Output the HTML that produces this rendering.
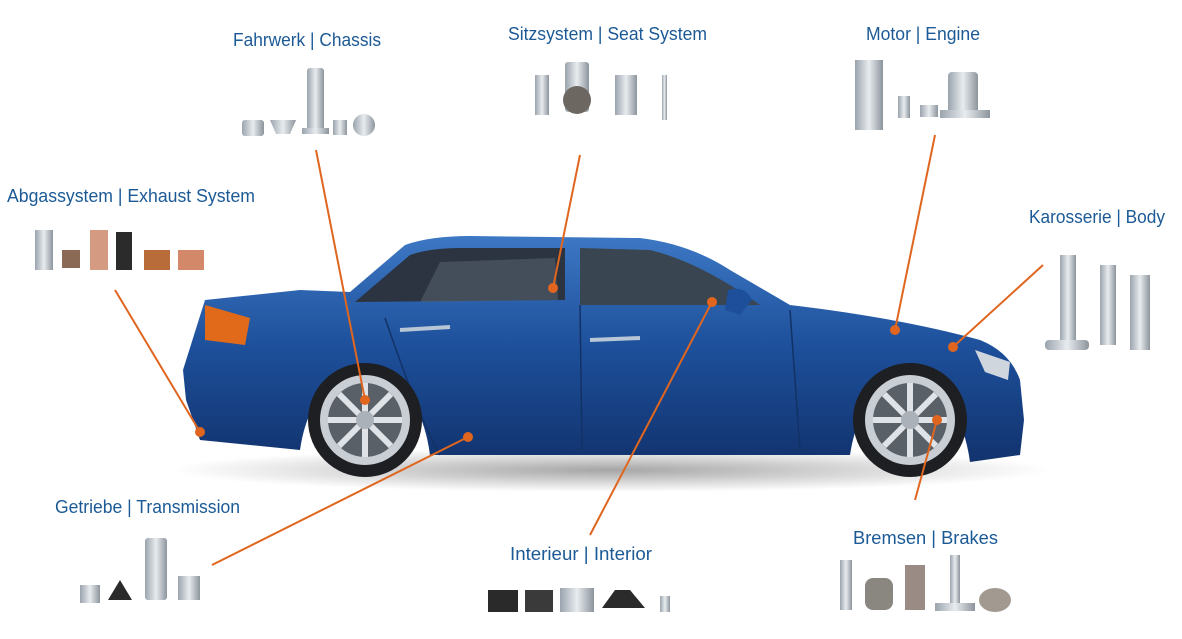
<!DOCTYPE html>
<html><head><meta charset="utf-8"><style>
html,body{margin:0;padding:0;background:#fff;}
svg{display:block}
text{font-family:"Liberation Sans Narrow","Liberation Sans",sans-serif;fill:#1c5a96;font-size:18px;}
</style></head><body>
<svg width="1182" height="639" viewBox="0 0 1182 639" xmlns="http://www.w3.org/2000/svg">
<defs>
<linearGradient id="body" x1="0" y1="0" x2="0" y2="1">
<stop offset="0" stop-color="#3d78c4"/><stop offset="0.5" stop-color="#1d4f9a"/><stop offset="1" stop-color="#12336e"/>
</linearGradient>
<linearGradient id="metal" x1="0" x2="1">
<stop offset="0" stop-color="#9aa3ad"/><stop offset="0.5" stop-color="#e8ecef"/><stop offset="1" stop-color="#8c949c"/>
</linearGradient>
<radialGradient id="shadow" cx="0.5" cy="0.5" r="0.5"><stop offset="0" stop-color="#000" stop-opacity="0.35"/><stop offset="1" stop-color="#000" stop-opacity="0"/></radialGradient>
</defs>
<ellipse cx="610" cy="470" rx="440" ry="22" fill="url(#shadow)"/>
<path d="M205,300 L300,290 L350,292 L405,245 Q430,236 470,236 L640,238 Q690,244 730,270 L790,305 Q900,318 980,340 Q1010,352 1020,380 L1024,420 L1020,455 L970,462 Q960,390 910,385 Q860,388 850,455 L430,455 Q420,380 365,375 Q310,380 300,450 L200,440 L186,400 L183,370 Z" fill="url(#body)"/>
<path d="M355,302 L410,255 Q430,248 460,248 L565,248 L565,300 Z" fill="#2b3440"/>
<path d="M580,248 L650,250 Q700,262 760,305 L580,305 Z" fill="#3a4552"/>
<path d="M420,302 L440,262 L555,258 L558,300 Z" fill="#55606c" opacity="0.6"/>
<path d="M205,305 L250,318 L245,345 L205,340 Z" fill="#e06a1a"/>
<path d="M975,350 L1010,362 L1008,380 L985,372 Z" fill="#cfd6de"/>
<path d="M580,305 L582,450 M385,318 Q420,420 440,455 M790,310 L800,450" stroke="#123266" stroke-width="1.5" fill="none"/>
<path d="M400,330 L450,327 M590,340 L640,338" stroke="#b9c6d6" stroke-width="4"/>
<g>
<circle cx="365" cy="420" r="57" fill="#1d1f22"/>
<circle cx="365" cy="420" r="45" fill="#c9ced4"/>
<circle cx="365" cy="420" r="37" fill="#5a6068"/>
<g stroke="#dfe3e7" stroke-width="6">
<line x1="365" y1="383" x2="365" y2="457"/><line x1="328" y1="420" x2="402" y2="420"/>
<line x1="339" y1="394" x2="391" y2="446"/><line x1="391" y1="394" x2="339" y2="446"/>
</g>
<circle cx="365" cy="420" r="9" fill="#aab1b8"/>
</g>
<g>
<circle cx="910" cy="420" r="57" fill="#1d1f22"/>
<circle cx="910" cy="420" r="45" fill="#c9ced4"/>
<circle cx="910" cy="420" r="37" fill="#5a6068"/>
<g stroke="#dfe3e7" stroke-width="6">
<line x1="910" y1="383" x2="910" y2="457"/><line x1="873" y1="420" x2="947" y2="420"/>
<line x1="884" y1="394" x2="936" y2="446"/><line x1="936" y1="394" x2="884" y2="446"/>
</g>
<circle cx="910" cy="420" r="9" fill="#aab1b8"/>
</g>
<path d="M728,290 Q745,285 752,300 L740,315 L725,310 Z" fill="#1d4f9a"/>

<g fill="url(#metal)">
<rect x="242" y="120" width="22" height="16" rx="3"/><path d="M270,120 h26 l-6,14 h-14z"/><rect x="307" y="68" width="17" height="66" rx="3"/><rect x="302" y="128" width="27" height="6"/><rect x="333" y="120" width="14" height="15"/><circle cx="364" cy="125" r="11"/>
<rect x="535" y="75" width="14" height="40"/><rect x="565" y="62" width="24" height="50" rx="3"/><circle cx="577" cy="100" r="14" fill="#6c6760"/><rect x="615" y="75" width="22" height="40"/><rect x="662" y="75" width="5" height="45"/>
<rect x="855" y="60" width="28" height="70"/><rect x="898" y="96" width="12" height="22"/><rect x="920" y="105" width="18" height="12"/><rect x="948" y="72" width="30" height="45" rx="4"/><rect x="940" y="110" width="50" height="8"/>
<rect x="35" y="230" width="18" height="40"/><rect x="62" y="250" width="18" height="18" fill="#8b6a55"/><rect x="90" y="230" width="18" height="40" fill="#d59a82"/><rect x="116" y="232" width="16" height="38" fill="#2b2b2b"/><rect x="144" y="250" width="26" height="20" fill="#b86c3a"/><rect x="178" y="250" width="26" height="20" fill="#d4886a"/>
<rect x="1060" y="255" width="16" height="85"/><rect x="1045" y="340" width="44" height="10" rx="4"/><rect x="1100" y="265" width="16" height="80"/><rect x="1130" y="275" width="20" height="75"/>
<rect x="80" y="585" width="20" height="18"/><path d="M108,600 L120,580 L132,600 Z" fill="#2b2b2b"/><rect x="145" y="538" width="22" height="62" rx="3"/><rect x="178" y="576" width="22" height="24"/>
<rect x="488" y="590" width="30" height="22" fill="#2a2a2a"/><rect x="525" y="590" width="28" height="22" fill="#3a3a3a"/><rect x="560" y="588" width="34" height="24"/><path d="M602,608 L615,590 L630,590 L645,608Z" fill="#2b2b2b"/><rect x="660" y="596" width="10" height="16"/>
<rect x="840" y="560" width="12" height="50"/><rect x="865" y="578" width="28" height="32" rx="8" fill="#8a8680"/><rect x="905" y="565" width="20" height="45" fill="#9a8c84"/><rect x="950" y="555" width="10" height="50"/><rect x="935" y="603" width="40" height="8"/><ellipse cx="995" cy="600" rx="16" ry="12" fill="#a29a90"/>
</g>

<g stroke="#e0661f" stroke-width="2" fill="none">
<line x1="316" y1="150" x2="365" y2="400"/>
<line x1="580" y1="155" x2="553" y2="288"/>
<line x1="935" y1="135" x2="895" y2="330"/>
<line x1="115" y1="290" x2="200" y2="432"/>
<line x1="1043" y1="265" x2="953" y2="347"/>
<line x1="212" y1="565" x2="468" y2="437"/>
<line x1="590" y1="535" x2="712" y2="302"/>
<line x1="915" y1="500" x2="937" y2="420"/>
</g>
<g fill="#e0661f">
<circle cx="365" cy="400" r="5"/><circle cx="553" cy="288" r="5"/><circle cx="895" cy="330" r="5"/><circle cx="200" cy="432" r="5"/><circle cx="953" cy="347" r="5"/><circle cx="468" cy="437" r="5"/><circle cx="712" cy="302" r="5"/><circle cx="937" cy="420" r="5"/>
</g>

<text x="233" y="46" textLength="148" lengthAdjust="spacingAndGlyphs">Fahrwerk | Chassis</text>
<text x="508" y="40" textLength="199" lengthAdjust="spacingAndGlyphs">Sitzsystem | Seat System</text>
<text x="866" y="40" textLength="114" lengthAdjust="spacingAndGlyphs">Motor | Engine</text>
<text x="7" y="202" textLength="248" lengthAdjust="spacingAndGlyphs">Abgassystem | Exhaust System</text>
<text x="1029" y="223" textLength="136" lengthAdjust="spacingAndGlyphs">Karosserie | Body</text>
<text x="55" y="513" textLength="185" lengthAdjust="spacingAndGlyphs">Getriebe | Transmission</text>
<text x="510" y="560" textLength="142" lengthAdjust="spacingAndGlyphs">Interieur | Interior</text>
<text x="853" y="544" textLength="145" lengthAdjust="spacingAndGlyphs">Bremsen | Brakes</text>
</svg>
</body></html>
